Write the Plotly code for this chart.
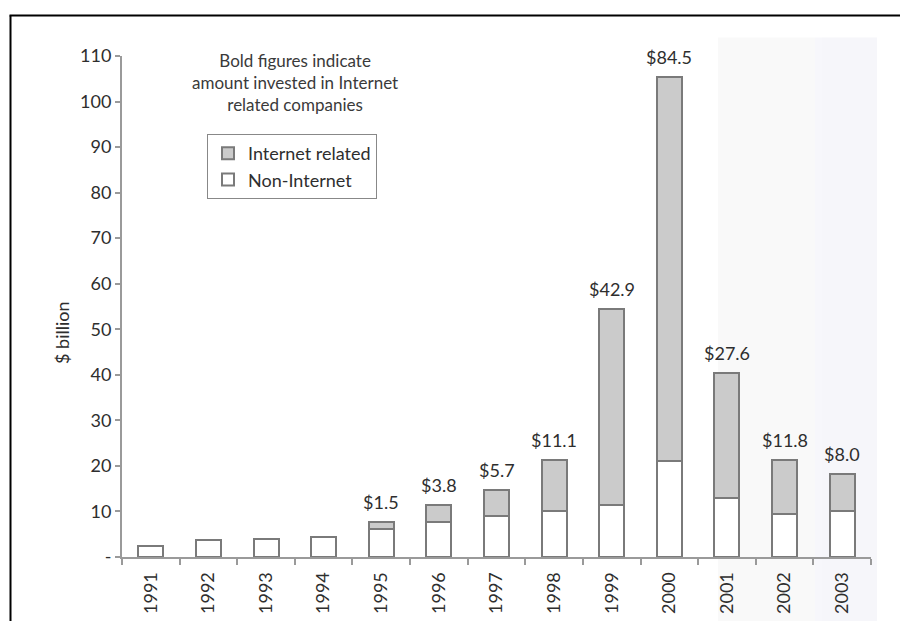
import plotly.graph_objects as go

# Venture investment by year, $ billion
years = ["1991", "1992", "1993", "1994", "1995", "1996", "1997",
         "1998", "1999", "2000", "2001", "2002", "2003"]
non_internet = [2.5, 3.7, 3.9, 4.4, 6.2, 7.7, 9.1, 10.2, 11.5, 21.0, 12.9, 9.5, 10.2]
internet = [None, None, None, None, 1.5, 3.8, 5.7, 11.1, 42.9, 84.5, 27.6, 11.8, 8.0]

y_ticks = [0, 10, 20, 30, 40, 50, 60, 70, 80, 90, 100, 110]
y_ticktext = ["-", "10", "20", "30", "40", "50", "60", "70", "80", "90", "100", "110"]

note_text = "Bold figures indicate<br>amount invested in Internet<br>related companies"

FONT = "Lato, 'Open Sans', sans-serif"
TEXT = "#2e2e2e"
EDGE = "#7a7a7a"

W, H = 900, 621
L, R, T, B = 122, 29, 56, 64
PW, PH = W - L - R, H - T - B


def px_x(px):
    return (px - L) / PW


def px_y(py):
    return (H - B - py) / PH


fig = go.Figure()
fig.add_trace(go.Bar(
    x=years, y=non_internet, name="Non-Internet", legendrank=2,
    marker=dict(color="white", line=dict(color=EDGE, width=2)),
))
fig.add_trace(go.Bar(
    x=years, y=internet, name="Internet related", legendrank=1,
    marker=dict(color="#cbcbcb", line=dict(color=EDGE, width=2)),
))

# dollar labels above each stacked bar (x given as category index)
annotations = []
for idx, (n, i) in enumerate(zip(non_internet, internet)):
    if i is None:
        continue
    annotations.append(dict(
        x=idx, y=n + i, xref="x", yref="y", text=f"${i:.1f}",
        showarrow=False, yanchor="bottom", yshift=7,
        font=dict(family=FONT, size=18, color=TEXT),
    ))

# explanatory note
annotations.append(dict(
    x=px_x(295), y=px_y(82), xref="paper", yref="paper",
    text=note_text, showarrow=False, align="center",
    xanchor="center", yanchor="middle",
    font=dict(family=FONT, size=17, color="#3a3a3a"),
))

annotations.append(dict(
    x=px_x(62), y=px_y(333), xref="paper", yref="paper",
    text="$ billion", textangle=-90, showarrow=False,
    xanchor="center", yanchor="middle",
    font=dict(family=FONT, size=18, color=TEXT),
))

shapes = [
    # faint shading on the right-hand side of the page
    dict(type="rect", xref="paper", yref="paper", layer="below",
         x0=px_x(718), x1=px_x(815), y0=px_y(621), y1=px_y(37.5),
         fillcolor="#f9f9f9", line=dict(width=0)),
    dict(type="rect", xref="paper", yref="paper", layer="below",
         x0=px_x(815), x1=px_x(822), y0=px_y(621), y1=px_y(37.5),
         fillcolor="#f7f7fb", line=dict(width=0)),
    dict(type="rect", xref="paper", yref="paper", layer="below",
         x0=px_x(822), x1=px_x(877), y0=px_y(621), y1=px_y(37.5),
         fillcolor="#f6f6fa", line=dict(width=0)),
    # page frame: top and left edges
    dict(type="line", xref="paper", yref="paper",
         x0=px_x(9.5), x1=px_x(900), y0=px_y(15.5), y1=px_y(15.5),
         line=dict(color="black", width=2)),
    dict(type="line", xref="paper", yref="paper",
         x0=px_x(10.5), x1=px_x(10.5), y0=px_y(15.5), y1=px_y(621),
         line=dict(color="black", width=2)),
]

fig.update_layout(
    width=W, height=H,
    margin=dict(l=L, r=R, t=T, b=B, pad=0),
    barmode="stack", bargap=0.565,
    paper_bgcolor="white", plot_bgcolor="rgba(0,0,0,0)",
    font=dict(family=FONT, size=18, color=TEXT),
    showlegend=True,
    legend=dict(
        x=px_x(207), y=px_y(134), xanchor="left", yanchor="top",
        bgcolor="white", bordercolor="#888888", borderwidth=1,
        traceorder="normal",
        font=dict(family=FONT, size=18, color=TEXT),
    ),
    annotations=annotations,
    shapes=shapes,
    xaxis=dict(
        type="category", range=[-0.5, 12.5], automargin=False,
        showline=True, linecolor="#9a9a9a", linewidth=2,
        ticks="outside", tickson="boundaries", ticklen=6,
        tickcolor="#9a9a9a", tickwidth=1.5, tickangle=-90,
        ticklabelstandoff=6,
        showgrid=False, tickfont=dict(family=FONT, size=18, color=TEXT),
    ),
    yaxis=dict(
        range=[0, 110], tickvals=y_ticks, ticktext=y_ticktext,
        automargin=False,
        showline=True, linecolor="#9a9a9a", linewidth=2,
        ticks="outside", ticklen=5, tickcolor="#9a9a9a", tickwidth=1.5,
        showgrid=False, zeroline=False,
        tickfont=dict(family=FONT, size=18, color=TEXT),
    ),
)

fig.write_html("out.html")
